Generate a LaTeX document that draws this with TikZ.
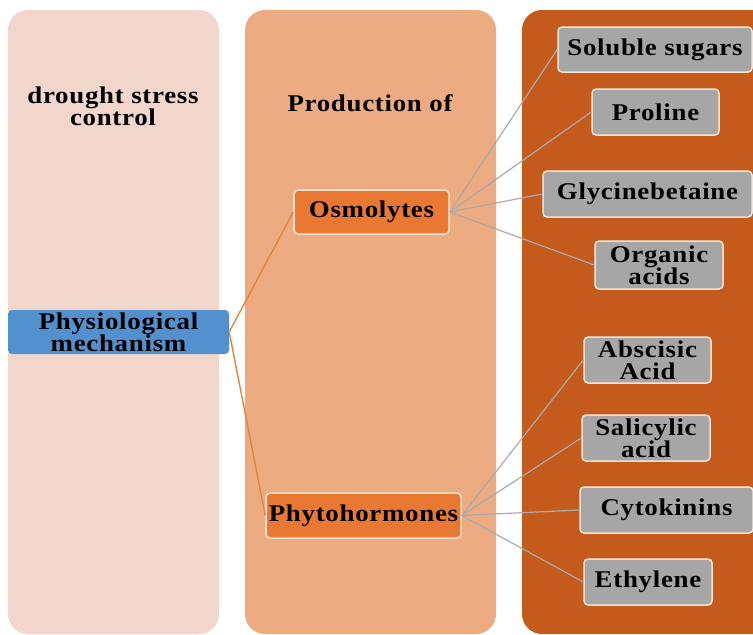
\documentclass[tikz,border=0pt]{standalone}
\usepackage{fontspec}
\setmainfont{Liberation Serif}[FakeStretch=1.12, LetterSpace=3]
\usetikzlibrary{calc}

\definecolor{colA}{HTML}{F2D6CB}
\definecolor{colB}{HTML}{ECAB80}
\definecolor{colC}{HTML}{C45B1C}
\definecolor{rootblue}{HTML}{5391CE}
\definecolor{groupor}{HTML}{E97832}
\definecolor{leafgray}{HTML}{A6A6A6}
\definecolor{rimcream}{HTML}{FAE3D0}
\definecolor{linkor}{HTML}{E3843F}
\definecolor{linkgray}{HTML}{ABABAB}

\begin{document}
\begin{tikzpicture}[
        %pixel-like units, y grows downwards
        x=1pt, y=-1pt,
        column/.style={rounded corners=20pt},
        every node/.style={font=\bfseries\fontsize{24}{22}\selectfont, align=center, inner sep=0pt},
        root box/.style={fill=rootblue, rounded corners=4pt},
        group box/.style={fill=groupor, draw=rimcream, line width=1.5pt, rounded corners=4pt},
        leaf box/.style={fill=leafgray, draw=rimcream, line width=1.5pt, rounded corners=4pt},
        main link/.style={draw=linkor, line width=1.4pt},
        leaf link/.style={draw=linkgray, line width=1.2pt}
]
\useasboundingbox (0,0) rectangle (753,635);
\begin{scope}
    \clip (0,0) rectangle (753,635);
    % the three columns
    \fill[colA, column] (8,10) rectangle (219,634);
    \fill[colB, column] (245,10) rectangle (496,634);
    \fill[colC, column] (522,10) rectangle (780,634);
\end{scope}

    % column titles
    \node (drought) at (113,106) {drought stress\\control};
    \node (production) at (370,103) {Production of};

    % main boxes
    \node[root box, minimum width=221pt, minimum height=44pt] (phys) at (118.5,332) {Physiological\\mechanism};
    \node[group box, minimum width=155pt, minimum height=44pt] (osmo) at (371.5,212) {Osmolytes};
    \node[group box, minimum width=195pt, minimum height=45pt] (phyto) at (363.5,515.5) {Phytohormones};

    % osmolytes
    \node[leaf box, minimum width=194pt, minimum height=45pt] (sugars) at (655,49.5) {Soluble sugars};
    \node[leaf box, minimum width=127pt, minimum height=46pt] (proline) at (655.5,112) {Proline};
    \node[leaf box, minimum width=209pt, minimum height=46pt] (glycine) at (647.5,194) {Glycinebetaine};
    \node[leaf box, minimum width=128pt, minimum height=48pt] (organic) at (659,265) {Organic\\acids};

    % phytohormones
    \node[leaf box, minimum width=127pt, minimum height=46pt] (abscisic) at (647.5,360) {Abscisic\\Acid};
    \node[leaf box, minimum width=128pt, minimum height=46pt] (salicylic) at (646,438) {Salicylic\\acid};
    \node[leaf box, minimum width=173pt, minimum height=46pt] (cytokinins) at (666.5,510) {Cytokinins};
    \node[leaf box, minimum width=128pt, minimum height=46pt] (ethylene) at (648,582) {Ethylene};

    % links
    \draw[main link] (phys.east) -- (osmo.west);
    \draw[main link] (phys.east) -- (phyto.west);
    \foreach \leaf in {sugars,proline,glycine,organic}
        \draw[leaf link] (osmo.east) -- (\leaf.west);
    \foreach \leaf in {abscisic,salicylic,cytokinins,ethylene}
        \draw[leaf link] (phyto.east) -- (\leaf.west);
\end{tikzpicture}
\end{document}
